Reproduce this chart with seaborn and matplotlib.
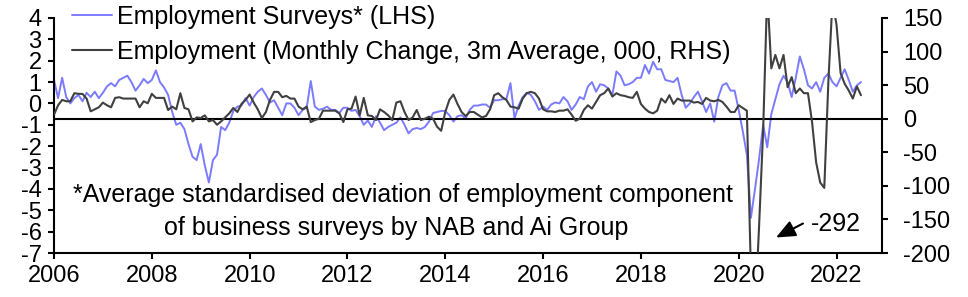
import numpy as np
import pandas as pd
import matplotlib
matplotlib.use("Agg")
import matplotlib.pyplot as plt
import seaborn as sns

# ---------------- data (monthly, Jan 2006 - Jul 2022) ----------------
start_year = 2006
survey = [
    1.1, 0.25, 1.2, 0.3, 0.0, 0.25, 0.4, 0.1, 0.5, 0.3, 0.55, 0.25,          # 2006
    0.5, 0.8, 0.95, 0.8, 1.1, 1.2, 1.3, 1.0, 0.6, 0.85, 1.15, 0.95,          # 2007
    1.1, 1.55, 1.0, 0.75, 0.4, -0.4, -1.0, -0.9, -1.2, -1.9, -2.5, -2.65,    # 2008
    -1.9, -2.9, -3.7, -2.65, -2.4, -1.1, -1.25, -0.9, -0.35, -0.15, -0.1, 0.25,  # 2009
    -0.1, 0.3, 0.55, 0.7, 0.4, 0.05, 0.15, -0.2, -0.55, 0.0, 0.0, -0.2,      # 2010
    -0.55, -0.3, -0.2, 1.05, -0.15, -0.3, -0.25, -0.15, -0.3, -0.3, -0.45, -0.2,  # 2011
    -0.2, -0.35, -0.3, -0.6, -1.0, -0.8, -1.1, -0.6, -0.9, -1.25, -1.1, -1.0,    # 2012
    -0.9, -0.65, -1.0, -1.4, -1.2, -1.15, -1.2, -1.1, -0.85, -0.45, -0.4, -0.35,  # 2013
    -0.35, -0.55, -0.85, -0.6, -0.55, -0.7, -0.3, -0.1, -0.1, -0.05, -0.05, -0.2,  # 2014
    0.15, 0.15, 0.2, 0.2, 0.95, -0.7, -0.1, 0.3, 0.5, 0.4, 0.1, -0.3,        # 2015
    -0.15, -0.3, -0.05, 0.05, 0.0, 0.3, 0.1, -0.3, -0.05, 0.3, 0.2, 0.8,     # 2016
    1.0, 0.55, 0.9, 0.85, 0.7, 0.4, 1.5, 1.3, 0.85, 0.9, 1.0, 1.2,           # 2017
    1.2, 1.8, 1.4, 1.95, 1.6, 1.6, 1.1, 1.05, 1.0, 1.2, 0.4, -0.2,           # 2018
    0.0, 0.3, 0.55, 0.1, -0.4, 0.0, -0.85, 0.3, 0.85, 0.95, 0.6, 0.6,        # 2019
    -0.3, -1.3, -2.4, -5.35, -4.0, -2.6, -1.0, -2.05, -0.5, 0.2, 0.9, 1.3,   # 2020
    1.0, 0.3, 1.2, 2.2, 1.6, 0.85, 0.7, 1.0, 0.55, 1.2, 1.4, 1.0,            # 2021
    0.8, 1.2, 1.6, 1.1, 0.55, 0.85, 1.0,                                      # 2022
]
employment = [
    6, 20, 28, 26, 26, 38, 37, 37, 30, 11, 14, 17,          # 2006
    24, 20, 17, 31, 32, 30, 30, 30, 30, 17, 26, 23,         # 2007
    37, 31, 31, 31, 13, 18, 14, 38, 16, 14, -4, 2,          # 2008
    1, 5, -4, -2, -9, -4, 2, 8, 16, 10, 22, 28,             # 2009
    36, 24, 14, 1, 10, 28, 40, 40, 32, 34, 30, 30,          # 2010
    18, 14, 18, -5, -2, 0, 12, 12, 12, 12, 8, -5,           # 2011
    14, 15, 33, 5, 31, 5, 4, -2, 14, 10, 5, -2,             # 2012
    24, 26, 10, -2, 2, 13, -2, 0, 3, 0, -12, -18,           # 2013
    10, 28, 36, 22, 10, 4, 10, 10, 6, 2, 4, 14,             # 2014
    35, 38, 32, 28, 18, 17, 15, 30, 38, 40, 38, 30,         # 2015
    14, 11, 11, 10, 12, 12, 14, 6, -3, 0, 13, 20,           # 2016
    15, 25, 35, 38, 45, 33, 38, 35, 34, 32, 31, 40,         # 2017
    22, 15, 10, 8, 12, 30, 24, 35, 22, 30, 27, 27,          # 2018
    27, 24, 25, 22, 31, 27, 26, 28, 25, 18, 10, 10,         # 2019
    20, 16, 12, -230, -292, -160, -17, 190, 75, 95, 75, 95, # 2020
    47, 62, 38, 45, 38, 38, -5, -65, -95, -103, 55, 175,    # 2021
    140, 68, 52, 42, 30, 48, 35,                            # 2022
]
label_survey = "Employment Surveys* (LHS)"
label_emp = "Employment (Monthly Change, 3m Average, 000, RHS)"
note_line1 = "*Average standardised deviation of employment component"
note_line2 = "of business surveys by NAB and Ai Group"
min_label = "-292"
left_ticks = list(range(-7, 5))
right_ticks = list(range(-200, 151, 50))
year_ticks = list(range(2006, 2023, 2))

BLUE = "#7b7bff"
DARK = "#404040"

# ---------------- figure ----------------
sns.set_style("ticks")
plt.rcParams["font.family"] = ["Liberation Sans", "DejaVu Sans"]
plt.rcParams["axes.unicode_minus"] = False
for k in ("text.color", "axes.labelcolor", "xtick.color", "ytick.color", "axes.edgecolor"):
    plt.rcParams[k] = "black"

t = start_year + np.arange(len(survey)) / 12.0
df = pd.DataFrame({"t": t, "survey": survey, "employment": employment})

W, H = 968, 297
fig = plt.figure(figsize=(W / 100, H / 100), dpi=100)
ax = fig.add_axes([54 / W, 1 - 253 / H, 828 / W, 235 / H])
ax2 = ax.twinx()

sns.lineplot(data=df, x="t", y="survey", ax=ax, color=BLUE, lw=1.4, label=label_survey, legend=False)
sns.lineplot(data=df, x="t", y="employment", ax=ax2, color=DARK, lw=1.5, label=label_emp, legend=False)
ax2.axhline(0, color="black", lw=1.5, zorder=1)

ax.set_xlim(2006, 2022.93)
ax.set_ylim(-7, 4)
ax2.set_ylim(-200, 150)
ax.set_yticks(left_ticks)
ax2.set_yticks(right_ticks)
ax.set_xticks(year_ticks)
ax.set_xticklabels([str(y) for y in year_ticks])
for a in (ax, ax2):
    a.set_xlabel("")
    a.set_ylabel("")
    a.spines["top"].set_visible(False)
    for s in a.spines.values():
        s.set_linewidth(1.5)
        s.set_color("black")
ax.spines["right"].set_visible(False)
ax2.spines["left"].set_visible(False)
ax2.spines["bottom"].set_visible(False)

ax.tick_params(axis="y", direction="out", length=4, width=1.5, labelsize=17, pad=5, colors="black")
ax.tick_params(axis="x", direction="out", length=4, width=1.5, labelsize=17, pad=5, colors="black")
ax2.tick_params(axis="y", direction="out", length=4, width=1.5, labelsize=17, pad=11, colors="black")

# legend
h1 = ax.get_lines()[0]
h2 = ax2.get_lines()[0]
leg = ax2.legend([h1, h2], [label_survey, label_emp], loc="upper left",
                 bbox_to_anchor=(72 / W, 1 - 5 / H), bbox_transform=fig.transFigure,
                 frameon=False, fontsize=18, handlelength=1.6, handletextpad=0.2,
                 labelspacing=0.44, borderpad=0, borderaxespad=0)
for txt in leg.get_texts():
    txt.set_color("black")

# note
ax.text((403 - 54) / 828, (253 - 195) / 235, note_line1, transform=ax.transAxes,
        ha="center", va="center", fontsize=18, color="black")
ax.text((396 - 54) / 828, (253 - 228) / 235, note_line2, transform=ax.transAxes,
        ha="center", va="center", fontsize=18, color="black")

# -292 arrow
ax.annotate("", xy=((776 - 54) / 828, (253 - 237.5) / 235), xycoords="axes fraction",
            xytext=((803 - 54) / 828, (253 - 223.5) / 235), textcoords="axes fraction",
            arrowprops=dict(arrowstyle="-|>,head_length=0.65,head_width=0.28",
                            color="black", lw=1.5, mutation_scale=18, shrinkA=0, shrinkB=0))
ax.text((811 - 54) / 828, (253 - 224) / 235, min_label, transform=ax.transAxes,
        ha="left", va="center", fontsize=18, color="black")

fig.savefig("out.png", dpi=100, facecolor="white")
